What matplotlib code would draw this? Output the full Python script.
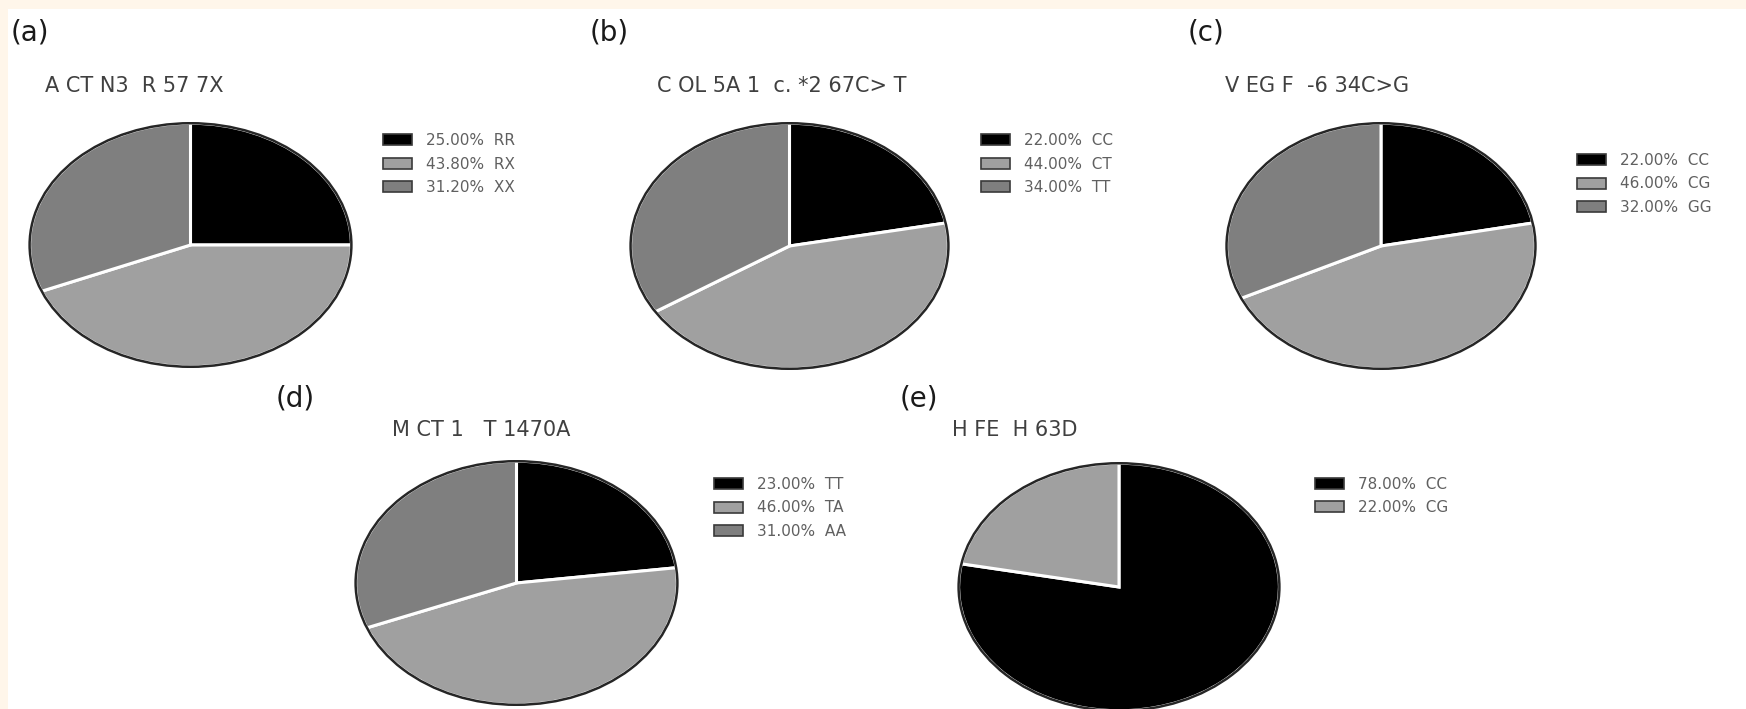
import matplotlib.pyplot as plt
from matplotlib.patches import Patch, Circle, Rectangle

W, H = 1746, 709

panel_labels = ["(a)", "(b)", "(c)", "(d)", "(e)"]
titles = ["A CT N3  R 57 7X", "C OL 5A 1  c. *2 67C> T", "V EG F  -6 34C>G",
          "M CT 1   T 1470A", "H FE  H 63D"]

genotypes_a = ["RR", "RX", "XX"]
values_a = [25.0, 43.8, 31.2]
genotypes_b = ["CC", "CT", "TT"]
values_b = [22.0, 44.0, 34.0]
genotypes_c = ["CC", "CG", "GG"]
values_c = [22.0, 46.0, 32.0]
genotypes_d = ["TT", "TA", "AA"]
values_d = [23.0, 46.0, 31.0]
genotypes_e = ["CC", "CG"]
values_e = [78.0, 22.0]

colors = ["#000000", "#a0a0a0", "#7f7f7f"]

# layout in pixels: pie box (x0, y0, x1, y1), title (x, y), label (x, y), legend (x, y)
layout = [
    dict(pie=(28, 122, 353, 368), title=(45, 86), label=(11, 33), legend=(383, 164)),
    dict(pie=(629, 122, 950, 370), title=(657, 86), label=(590, 33), legend=(981, 164)),
    dict(pie=(1225, 122, 1537, 370), title=(1225, 86), label=(1188, 33), legend=(1577, 184)),
    dict(pie=(354, 460, 679, 706), title=(392, 430), label=(276, 399), legend=(714, 508)),
    dict(pie=(957, 462, 1281, 712), title=(952, 430), label=(900, 399), legend=(1315, 496)),
]

data = [(genotypes_a, values_a), (genotypes_b, values_b), (genotypes_c, values_c),
        (genotypes_d, values_d), (genotypes_e, values_e)]

fig = plt.figure(figsize=(W / 100, H / 100), dpi=100)
fig.patch.set_facecolor("#fff6ea")
fig.patches.append(Rectangle((8 / W, 0), 1, 1 - 9 / H, transform=fig.transFigure,
                             facecolor="white", edgecolor="none", zorder=-10))

for (gens, vals), lay, lab, ttl in zip(data, layout, panel_labels, titles):
    x0, y0, x1, y1 = lay["pie"]
    ax = fig.add_axes([x0 / W, 1 - y1 / H, (x1 - x0) / W, (y1 - y0) / H])
    ax.patch.set_visible(False)
    wedges, _ = ax.pie(vals, colors=colors[:len(vals)], startangle=90, counterclock=False,
                       wedgeprops=dict(edgecolor="white", linewidth=2.2))
    # dark outline round the whole pie
    ax.add_patch(Circle((0, 0), 1.0, facecolor="none", edgecolor="#262626", linewidth=1.8))
    ax.set_aspect("auto")
    ax.set_xlim(-1.01, 1.01)
    ax.set_ylim(-1.01, 1.01)
    ax.axis("off")

    handles = [Patch(facecolor=c, edgecolor="#3a3a3a", linewidth=1.2) for c in colors[:len(vals)]]
    labels = [f"{v:.2f}%  {g}" for v, g in zip(vals, gens)]
    lx, ly = lay["legend"]
    fig.legend(handles, labels, loc="center left", bbox_to_anchor=(lx / W, 1 - ly / H),
               frameon=False, fontsize=11, labelcolor="#606060", handlelength=1.9,
               handleheight=0.72, handletextpad=0.9, labelspacing=0.55, borderaxespad=0,
               borderpad=0)

    tx, ty = lay["title"]
    fig.text(tx / W, 1 - ty / H, ttl, ha="left", va="center", fontsize=15,
             family="DejaVu Sans", color="#404040")
    px, py = lay["label"]
    fig.text(px / W, 1 - py / H, lab, ha="left", va="center", fontsize=20,
             family="DejaVu Sans", color="#1a1a1a")

fig.savefig("out.png", dpi=100, facecolor=fig.get_facecolor())
